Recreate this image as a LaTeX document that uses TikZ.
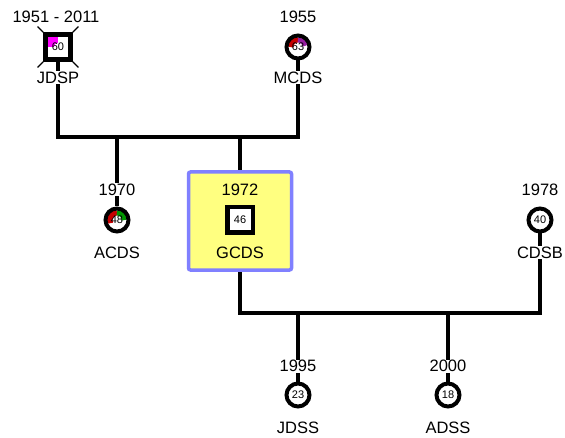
\documentclass[tikz,border=0pt]{standalone}
\usepackage{fontspec}
\setmainfont{Liberation Sans}
\usetikzlibrary{backgrounds}
\definecolor{boxfill}{RGB}{255,255,128}
\definecolor{boxline}{RGB}{128,128,255}
\definecolor{redarc}{RGB}{200,0,0}
\definecolor{purplearc}{RGB}{150,30,160}
\definecolor{greenarc}{RGB}{0,150,0}
\definecolor{magentafill}{RGB}{255,0,255}
\tikzset{
  conn/.style={line width=4.5pt, line join=miter},
  lbl/.style={fill=white, inner sep=0.6pt, font=\fontsize{16.5}{19}\selectfont, text height=11.8pt, text depth=0pt},
  inlbl/.style={inner sep=0.6pt, font=\fontsize{16.5}{19}\selectfont, text height=11.8pt, text depth=0pt},
  ring/.style={circle, draw, line width=4pt, fill=white, minimum size=23pt, inner sep=0pt, font=\fontsize{11}{13}\selectfont},
  sq/.style={rectangle, draw, line width=4.5pt, fill=white, minimum size=25pt, inner sep=0pt, font=\fontsize{11}{13}\selectfont},
  band/.style={line width=6pt},
  gbox/.style={rectangle, draw=boxline, line width=3.5pt, fill=boxfill, rounded corners=2pt, minimum width=103pt, minimum height=98pt, inner sep=0pt},
  diag/.style={line width=1.2pt}
}
\begin{document}
\begin{tikzpicture}[x=1pt,y=1pt]
\useasboundingbox (0,0) rectangle (565,437);

% GCDS box
\node[gbox] (gbox) at (240,216) {};
\node[inlbl] (gyear) at (240,247) {1972};
\node[sq, minimum size=25.5pt] (gcds) at (240,217) {46};
\node[inlbl] (gname) at (240,184) {GCDS};

% JDSP
\node[lbl] (jyear) at (56,420) {1951 - 2011};
\node[sq, minimum size=25pt, path picture={
   \fill[magentafill] (path picture bounding box.north west) rectangle (path picture bounding box.center);
   \fill[white] (path picture bounding box.center) circle[radius=4pt];
 }] (jdsp) at (58,390) {60};
\node[lbl] (jname) at (58,359) {JDSP};
\draw[diag] (jdsp.north west) -- ++(135:8pt);
\draw[diag] (jdsp.north east) -- ++(45:8pt);
\draw[diag] (jdsp.south west) -- ++(225:8pt);
\draw[diag] (jdsp.south east) -- ++(315:8pt);

% MCDS
\node[ring, path picture={
   \draw[band, redarc] ([shift={(180:7.6pt)}]path picture bounding box.center) arc[start angle=180, end angle=90, radius=7.6pt];
   \draw[band, purplearc] ([shift={(90:7.6pt)}]path picture bounding box.center) arc[start angle=90, end angle=10, radius=7.6pt];
 }] (mcds) at (298,390) {63};
\node[lbl] (myear) at (298,420) {1955};
\node[lbl] (mname) at (298,359) {MCDS};

% ACDS
\node[lbl] (ayear) at (117,247) {1970};
\node[ring, path picture={
   \draw[band, redarc] ([shift={(205:7.6pt)}]path picture bounding box.center) arc[start angle=205, end angle=90, radius=7.6pt];
   \draw[band, greenarc] ([shift={(90:7.6pt)}]path picture bounding box.center) arc[start angle=90, end angle=0, radius=7.6pt];
 }] (acds) at (117,217) {48};
\node[lbl] (aname) at (117,184) {ACDS};

% CDSB
\node[lbl] (cyear) at (540,247) {1978};
\node[ring] (cdsb) at (540,217) {40};
\node[lbl] (cname) at (540,184) {CDSB};

% JDSS
\node[lbl] (jsyear) at (298,71) {1995};
\node[ring] (jdss) at (298,42) {23};
\node[lbl] (jsname) at (298,9) {JDSS};

% ADSS
\node[lbl] (adyear) at (448,71) {2000};
\node[ring] (adss) at (448,42) {18};
\node[lbl] (adname) at (448,9) {ADSS};

% junctions
\coordinate (tl) at (58,300);
\coordinate (tr) at (298,300);
\coordinate (ta) at (117,300);
\coordinate (tg) at (240,300);
\coordinate (bl) at (240,124);
\coordinate (br) at (540,124);
\coordinate (bj) at (298,124);
\coordinate (ba) at (448,124);

\begin{pgfonlayer}{background}
\draw[conn] (jdsp) -- (tl) -- (tr) -- (mcds);
\draw[conn] (ta) -- (acds);
\draw[conn] (tg) -- (gbox);
\draw[conn] (gbox) -- (bl) -- (br) -- (cdsb);
\draw[conn] (bj) -- (jdss);
\draw[conn] (ba) -- (adss);
\end{pgfonlayer}
\end{tikzpicture}
\end{document}
